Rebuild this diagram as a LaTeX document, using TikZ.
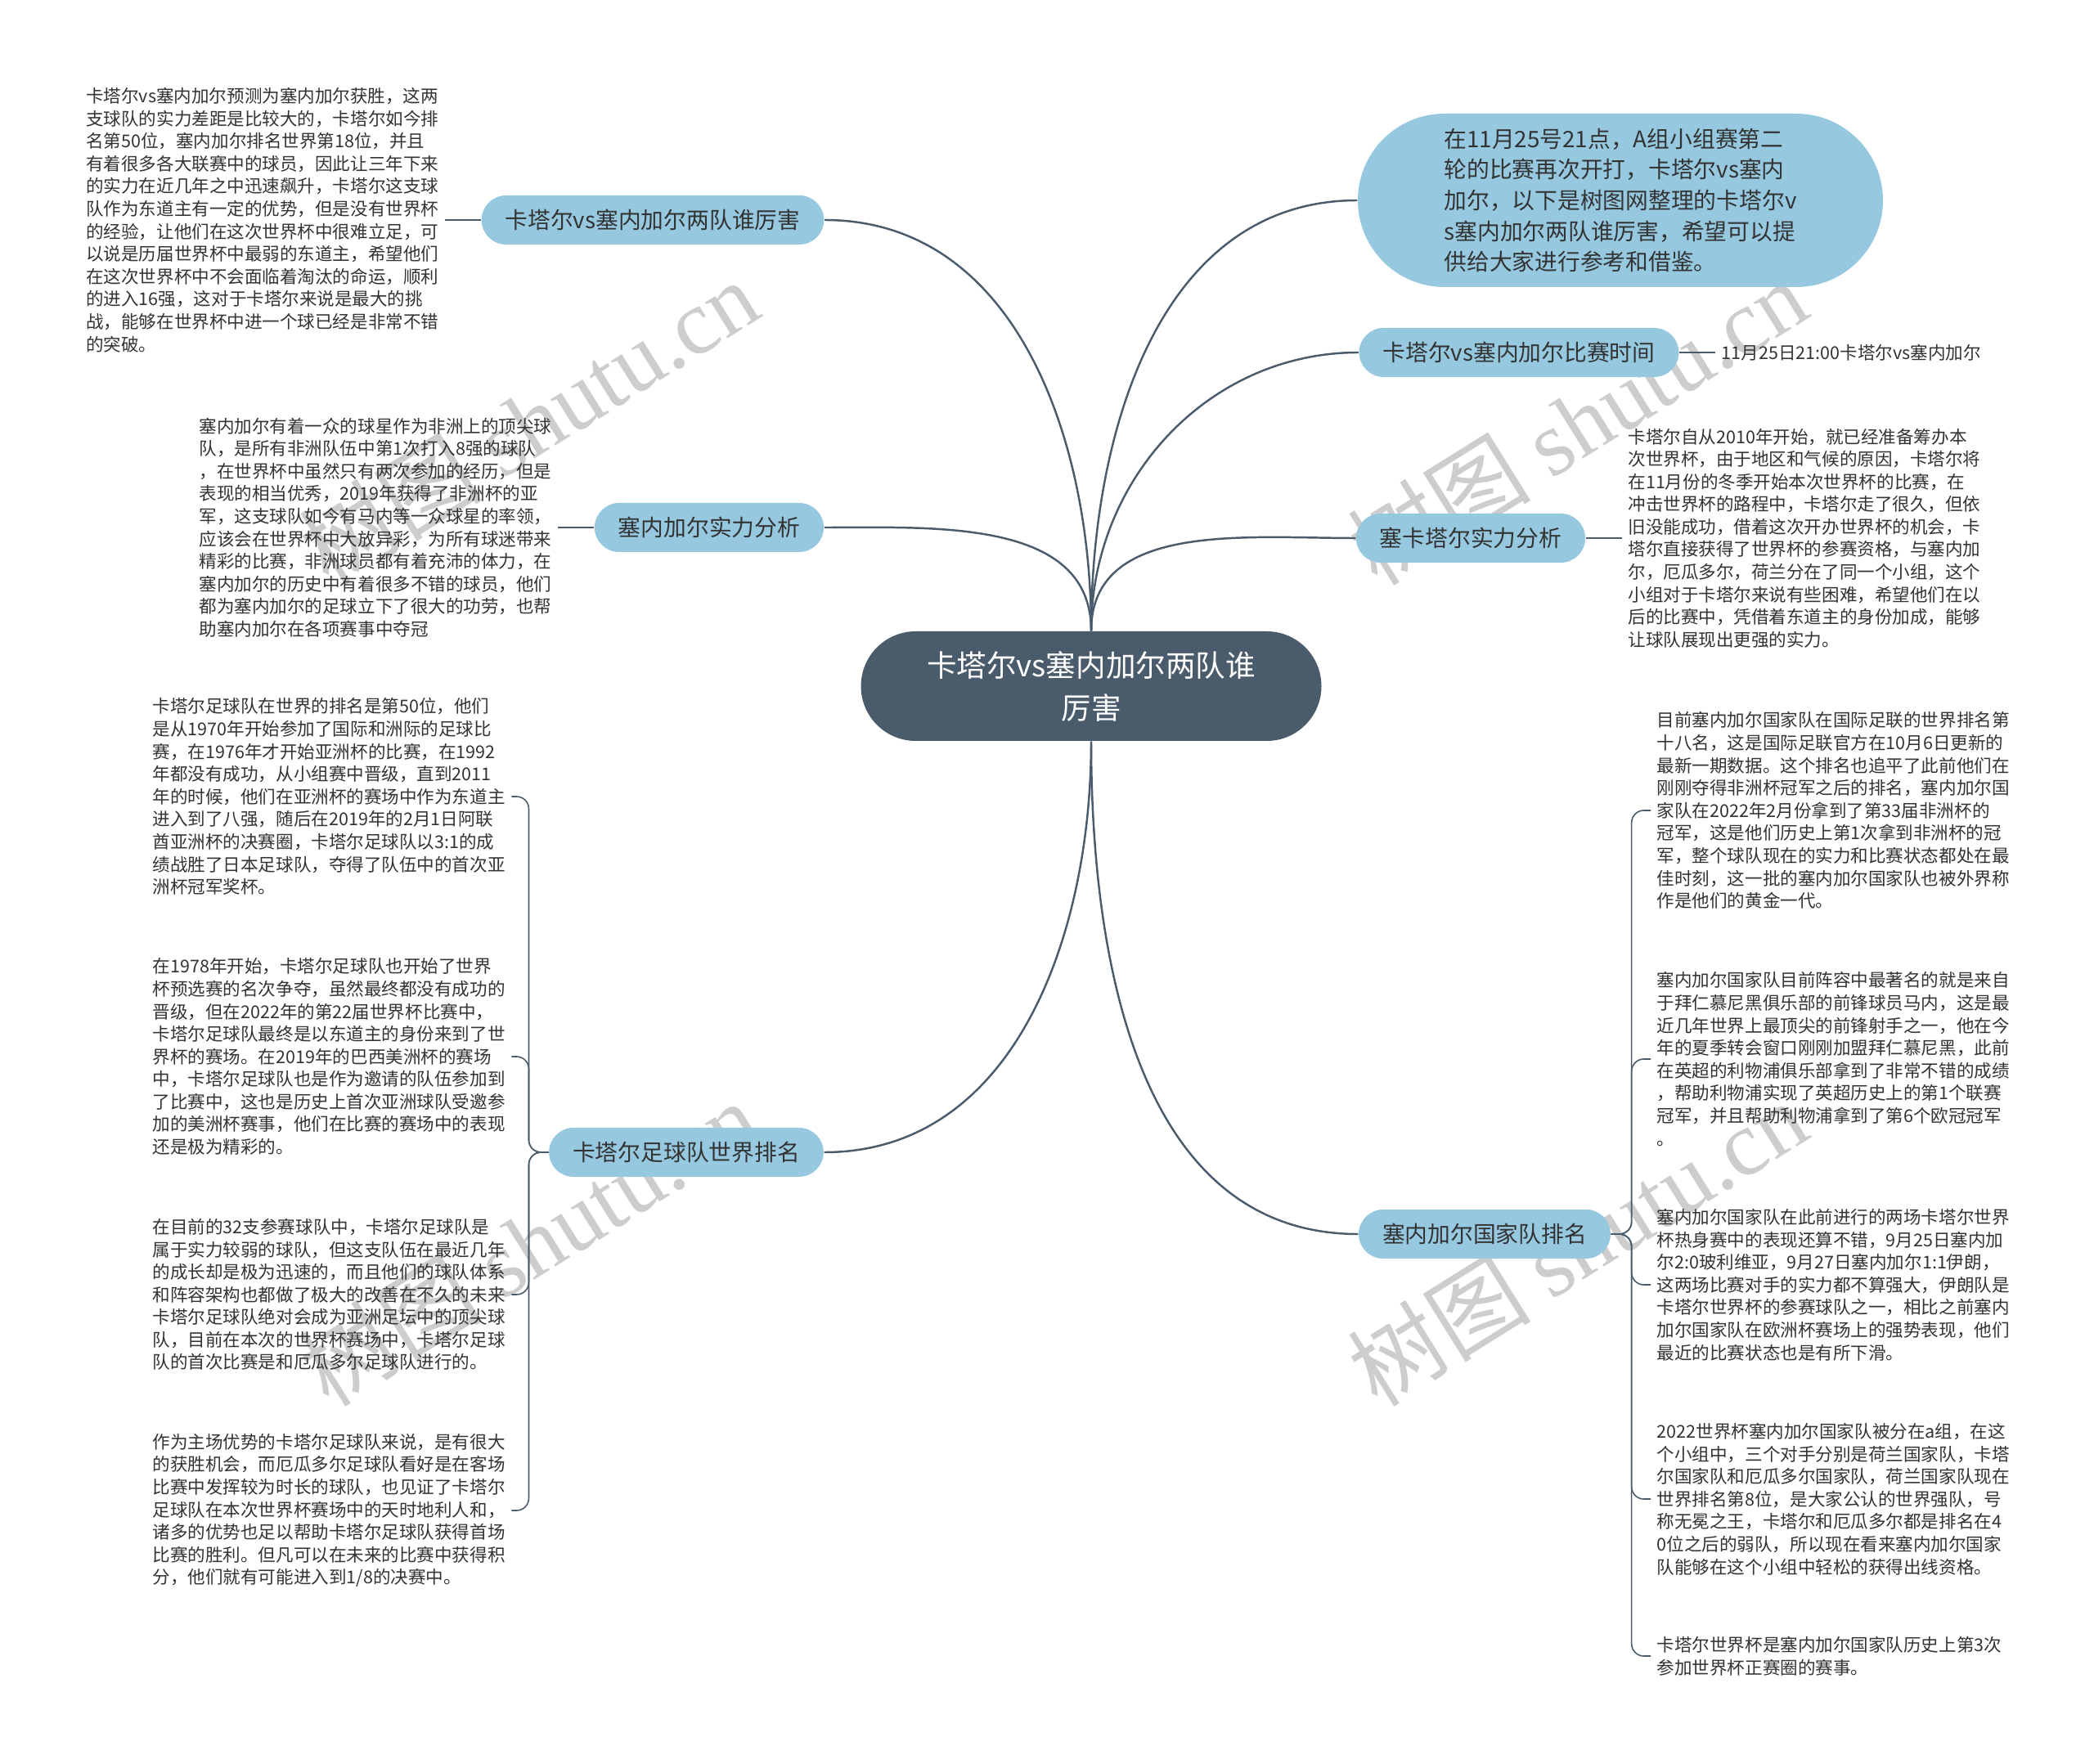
\documentclass[tikz,border=0pt]{standalone}
\usepackage{fontspec}
\setmainfont{Noto Sans CJK SC}
\newfontfamily\wmfont{Liberation Serif}
\usetikzlibrary{positioning}
\definecolor{hub}{HTML}{4A5B6B}
\definecolor{sky}{HTML}{96C8E0}
\definecolor{ink}{HTML}{333333}
\definecolor{mark}{HTML}{CDCDCD}

\begin{document}
\begin{tikzpicture}[
        node distance=0.44cm,
        topic/.style={rectangle, rounded corners=0.67cm, fill=hub, text=white, minimum width=5.63cm, minimum height=1.34cm, align=center, font=\fontsize{10.4}{14.8}\selectfont},
        branch/.style={rectangle, rounded corners=0.3cm, fill=sky, text=ink, minimum height=0.6cm, inner xsep=0.29cm, font=\fontsize{7.9}{10}\selectfont},
        leaf/.style={align=left, inner xsep=2pt, inner ysep=0pt, text=ink, font=\fontsize{6.13}{7.85}\selectfont},
        link/.style={draw=hub, line width=0.7pt},
        twig/.style={draw=hub, line width=0.45pt, rounded corners=0.15cm},
        wm/.style={text=mark, rotate=32, font=\fontsize{32}{32}\selectfont}
    ]
        \fill[white] (0,0) rectangle (25.6,-21.57);
        \useasboundingbox (0,0) rectangle (25.6,-21.57);

        % watermarks
        \node[wm] (wm1) at (6.46,-5.16) {树图 {\wmfont shutu.cn}};
        \node[wm] (wm2) at (19.28,-5.16) {树图 {\wmfont shutu.cn}};
        \node[wm] (wm3) at (6.46,-15.20) {树图 {\wmfont shutu.cn}};
        \node[wm] (wm4) at (19.28,-15.20) {树图 {\wmfont shutu.cn}};

        % centre and main branches
        \node[topic] (hub) at (13.34,-8.39) {卡塔尔vs塞内加尔两队谁\\厉害};
        \node[branch] (b1) at (7.98,-2.69) {卡塔尔vs塞内加尔两队谁厉害};
        \node[branch] (b2) at (8.67,-6.45) {塞内加尔实力分析};
        \node[branch] (b3) at (8.39,-14.09) {卡塔尔足球队世界排名};
        \node[branch, rounded corners=1.06cm, minimum width=6.42cm, minimum height=2.12cm, align=left, font=\fontsize{7.9}{10.7}\selectfont] (b4) at (19.81,-2.45) {在11月25号21点，A组小组赛第二\\轮的比赛再次开打，卡塔尔vs塞内\\加尔，以下是树图网整理的卡塔尔v\\s塞内加尔两队谁厉害，希望可以提\\供给大家进行参考和借鉴。};
        \node[branch] (b5) at (18.57,-4.31) {卡塔尔vs塞内加尔比赛时间};
        \node[branch] (b6) at (17.98,-6.58) {塞卡塔尔实力分析};
        \node[branch] (b7) at (18.15,-15.09) {塞内加尔国家队排名};

        \draw[link] (hub.north) to[out=90,in=0] (b1.east);
        \draw[link] (hub.north) to[out=90,in=0] (b2.east);
        \draw[link] (hub.south) to[out=-90,in=0] (b3.east);
        \draw[link] (hub.north) to[out=90,in=180] (b4.west);
        \draw[link] (hub.north) to[out=90,in=180] (b5.west);
        \draw[link] (hub.north) to[out=90,in=180] (b6.west);
        \draw[link] (hub.south) to[out=-90,in=180] (b7.west);

        % left leaves
        \node[leaf, left=of b1] (k1) {卡塔尔vs塞内加尔预测为塞内加尔获胜，这两\\支球队的实力差距是比较大的，卡塔尔如今排\\名第50位，塞内加尔排名世界第18位，并且\\有着很多各大联赛中的球员，因此让三年下来\\的实力在近几年之中迅速飙升，卡塔尔这支球\\队作为东道主有一定的优势，但是没有世界杯\\的经验，让他们在这次世界杯中很难立足，可\\以说是历届世界杯中最弱的东道主，希望他们\\在这次世界杯中不会面临着淘汰的命运，顺利\\的进入16强，这对于卡塔尔来说是最大的挑\\战，能够在世界杯中进一个球已经是非常不错\\的突破。};
        \node[leaf, left=of b2] (k2) {塞内加尔有着一众的球星作为非洲上的顶尖球\\队，是所有非洲队伍中第1次打入8强的球队\\，在世界杯中虽然只有两次参加的经历，但是\\表现的相当优秀，2019年获得了非洲杯的亚\\军，这支球队如今有马内等一众球星的率领，\\应该会在世界杯中大放异彩，为所有球迷带来\\精彩的比赛，非洲球员都有着充沛的体力，在\\塞内加尔的历史中有着很多不错的球员，他们\\都为塞内加尔的足球立下了很大的功劳，也帮\\助塞内加尔在各项赛事中夺冠};
        \node[leaf, anchor=west] (k3) at (1.79,-9.74) {卡塔尔足球队在世界的排名是第50位，他们\\是从1970年开始参加了国际和洲际的足球比\\赛，在1976年才开始亚洲杯的比赛，在1992\\年都没有成功，从小组赛中晋级，直到2011\\年的时候，他们在亚洲杯的赛场中作为东道主\\进入到了八强，随后在2019年的2月1日阿联\\酋亚洲杯的决赛圈，卡塔尔足球队以3:1的成\\绩战胜了日本足球队，夺得了队伍中的首次亚\\洲杯冠军奖杯。};
        \node[leaf, anchor=west] (k4) at (1.79,-12.92) {在1978年开始，卡塔尔足球队也开始了世界\\杯预选赛的名次争夺，虽然最终都没有成功的\\晋级，但在2022年的第22届世界杯比赛中，\\卡塔尔足球队最终是以东道主的身份来到了世\\界杯的赛场。在2019年的巴西美洲杯的赛场\\中，卡塔尔足球队也是作为邀请的队伍参加到\\了比赛中，这也是历史上首次亚洲球队受邀参\\加的美洲杯赛事，他们在比赛的赛场中的表现\\还是极为精彩的。};
        \node[leaf, anchor=west] (k5) at (1.79,-15.83) {在目前的32支参赛球队中，卡塔尔足球队是\\属于实力较弱的球队，但这支队伍在最近几年\\的成长却是极为迅速的，而且他们的球队体系\\和阵容架构也都做了极大的改善在不久的未来\\卡塔尔足球队绝对会成为亚洲足坛中的顶尖球\\队，目前在本次的世界杯赛场中，卡塔尔足球\\队的首次比赛是和厄瓜多尔足球队进行的。};
        \node[leaf, anchor=west] (k6) at (1.79,-18.47) {作为主场优势的卡塔尔足球队来说，是有很大\\的获胜机会，而厄瓜多尔足球队看好是在客场\\比赛中发挥较为时长的球队，也见证了卡塔尔\\足球队在本次世界杯赛场中的天时地利人和，\\诸多的优势也足以帮助卡塔尔足球队获得首场\\比赛的胜利。但凡可以在未来的比赛中获得积\\分，他们就有可能进入到1/8的决赛中。};

        % right leaves
        \node[leaf, right=of b5] (r1) {11月25日21:00卡塔尔vs塞内加尔};
        \node[leaf, right=of b6] (r2) {卡塔尔自从2010年开始，就已经准备筹办本\\次世界杯，由于地区和气候的原因，卡塔尔将\\在11月份的冬季开始本次世界杯的比赛，在\\冲击世界杯的路程中，卡塔尔走了很久，但依\\旧没能成功，借着这次开办世界杯的机会，卡\\塔尔直接获得了世界杯的参赛资格，与塞内加\\尔，厄瓜多尔，荷兰分在了同一个小组，这个\\小组对于卡塔尔来说有些困难，希望他们在以\\后的比赛中，凭借着东道主的身份加成，能够\\让球队展现出更强的实力。};
        \node[leaf, anchor=west] (r3) at (20.18,-9.91) {目前塞内加尔国家队在国际足联的世界排名第\\十八名，这是国际足联官方在10月6日更新的\\最新一期数据。这个排名也追平了此前他们在\\刚刚夺得非洲杯冠军之后的排名，塞内加尔国\\家队在2022年2月份拿到了第33届非洲杯的\\冠军，这是他们历史上第1次拿到非洲杯的冠\\军，整个球队现在的实力和比赛状态都处在最\\佳时刻，这一批的塞内加尔国家队也被外界称\\作是他们的黄金一代。};
        \node[leaf, anchor=west] (r4) at (20.18,-12.95) {塞内加尔国家队目前阵容中最著名的就是来自\\于拜仁慕尼黑俱乐部的前锋球员马内，这是最\\近几年世界上最顶尖的前锋射手之一，他在今\\年的夏季转会窗口刚刚加盟拜仁慕尼黑，此前\\在英超的利物浦俱乐部拿到了非常不错的成绩\\，帮助利物浦实现了英超历史上的第1个联赛\\冠军，并且帮助利物浦拿到了第6个欧冠冠军\\。};
        \node[leaf, anchor=west] (r5) at (20.18,-15.71) {塞内加尔国家队在此前进行的两场卡塔尔世界\\杯热身赛中的表现还算不错，9月25日塞内加\\尔2:0玻利维亚，9月27日塞内加尔1:1伊朗，\\这两场比赛对手的实力都不算强大，伊朗队是\\卡塔尔世界杯的参赛球队之一，相比之前塞内\\加尔国家队在欧洲杯赛场上的强势表现，他们\\最近的比赛状态也是有所下滑。};
        \node[leaf, anchor=west] (r6) at (20.18,-18.33) {2022世界杯塞内加尔国家队被分在a组，在这\\个小组中，三个对手分别是荷兰国家队，卡塔\\尔国家队和厄瓜多尔国家队，荷兰国家队现在\\世界排名第8位，是大家公认的世界强队，号\\称无冕之王，卡塔尔和厄瓜多尔都是排名在4\\0位之后的弱队，所以现在看来塞内加尔国家\\队能够在这个小组中轻松的获得出线资格。};
        \node[leaf, anchor=west] (r7) at (20.18,-20.25) {卡塔尔世界杯是塞内加尔国家队历史上第3次\\参加世界杯正赛圈的赛事。};

        \draw[twig] (b1) -- (k1);
        \draw[twig] (b2) -- (k2);
        \foreach \k in {k3,k4,k5,k6}
            \draw[twig] (b3.west) -- ++(-0.24,0) |- (\k.east);
        \draw[twig] (b5) -- (r1);
        \draw[twig] (b6) -- (r2);
        \foreach \r in {r3,r4,r5,r6,r7}
            \draw[twig] (b7.east) -- ++(0.25,0) |- (\r.west);
    \end{tikzpicture}
\end{document}
